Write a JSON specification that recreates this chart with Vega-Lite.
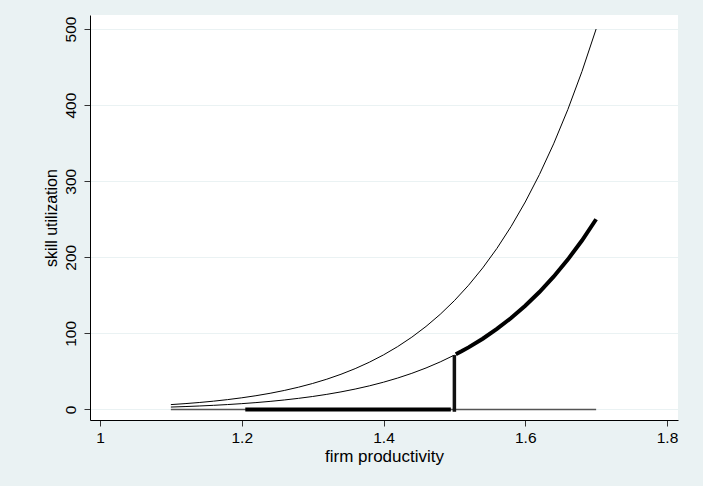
{
  "$schema": "https://vega.github.io/schema/vega-lite/v6.json",
  "width": 588,
  "height": 405,
  "autosize": {"type": "none"},
  "padding": {"left": 90, "top": 15, "right": 25, "bottom": 66},
  "background": "#eaf2f3",
  "config": {
    "view": {"fill": "white", "stroke": null},
    "font": "Liberation Sans",
    "axis": {
      "domainColor": "#000000",
      "domainWidth": 1,
      "tickColor": "#333333",
      "tickSize": 6,
      "tickWidth": 1,
      "gridColor": "#eaf2f3",
      "gridWidth": 1,
      "labelFont": "Liberation Sans",
      "labelFontSize": 15.5,
      "labelColor": "#000000",
      "titleFont": "Liberation Sans",
      "titleFontWeight": "normal",
      "titleColor": "#000000"
    }
  },
  "datasets": {
    "thin": [
      {"curve": "upper", "x": 1.10, "y": 6.43},
      {"curve": "upper", "x": 1.12, "y": 7.70},
      {"curve": "upper", "x": 1.14, "y": 9.19},
      {"curve": "upper", "x": 1.16, "y": 10.94},
      {"curve": "upper", "x": 1.18, "y": 12.98},
      {"curve": "upper", "x": 1.20, "y": 15.36},
      {"curve": "upper", "x": 1.22, "y": 18.12},
      {"curve": "upper", "x": 1.24, "y": 21.31},
      {"curve": "upper", "x": 1.26, "y": 25.01},
      {"curve": "upper", "x": 1.28, "y": 29.28},
      {"curve": "upper", "x": 1.30, "y": 34.19},
      {"curve": "upper", "x": 1.32, "y": 39.83},
      {"curve": "upper", "x": 1.34, "y": 46.29},
      {"curve": "upper", "x": 1.36, "y": 53.68},
      {"curve": "upper", "x": 1.38, "y": 62.12},
      {"curve": "upper", "x": 1.40, "y": 71.74},
      {"curve": "upper", "x": 1.42, "y": 82.67},
      {"curve": "upper", "x": 1.44, "y": 95.08},
      {"curve": "upper", "x": 1.46, "y": 109.14},
      {"curve": "upper", "x": 1.48, "y": 125.05},
      {"curve": "upper", "x": 1.50, "y": 143.01},
      {"curve": "upper", "x": 1.52, "y": 163.26},
      {"curve": "upper", "x": 1.54, "y": 186.06},
      {"curve": "upper", "x": 1.56, "y": 211.69},
      {"curve": "upper", "x": 1.58, "y": 240.45},
      {"curve": "upper", "x": 1.60, "y": 272.68},
      {"curve": "upper", "x": 1.62, "y": 308.75},
      {"curve": "upper", "x": 1.64, "y": 349.05},
      {"curve": "upper", "x": 1.66, "y": 394.03},
      {"curve": "upper", "x": 1.68, "y": 444.17},
      {"curve": "upper", "x": 1.70, "y": 500.0},
      {"curve": "middle", "x": 1.10, "y": 3.21},
      {"curve": "middle", "x": 1.12, "y": 3.85},
      {"curve": "middle", "x": 1.14, "y": 4.60},
      {"curve": "middle", "x": 1.16, "y": 5.47},
      {"curve": "middle", "x": 1.18, "y": 6.49},
      {"curve": "middle", "x": 1.20, "y": 7.68},
      {"curve": "middle", "x": 1.22, "y": 9.06},
      {"curve": "middle", "x": 1.24, "y": 10.66},
      {"curve": "middle", "x": 1.26, "y": 12.51},
      {"curve": "middle", "x": 1.28, "y": 14.64},
      {"curve": "middle", "x": 1.30, "y": 17.10},
      {"curve": "middle", "x": 1.32, "y": 19.91},
      {"curve": "middle", "x": 1.34, "y": 23.15},
      {"curve": "middle", "x": 1.36, "y": 26.84},
      {"curve": "middle", "x": 1.38, "y": 31.06},
      {"curve": "middle", "x": 1.40, "y": 35.87},
      {"curve": "middle", "x": 1.42, "y": 41.34},
      {"curve": "middle", "x": 1.44, "y": 47.54},
      {"curve": "middle", "x": 1.46, "y": 54.57},
      {"curve": "middle", "x": 1.48, "y": 62.52},
      {"curve": "middle", "x": 1.50, "y": 71.50},
      {"curve": "zero", "x": 1.10, "y": 0},
      {"curve": "zero", "x": 1.70, "y": 0}
    ],
    "thick": [
      {"curve": "middle", "x": 1.502, "y": 72.5},
      {"curve": "middle", "x": 1.51, "y": 76.4},
      {"curve": "middle", "x": 1.52, "y": 81.63},
      {"curve": "middle", "x": 1.54, "y": 93.03},
      {"curve": "middle", "x": 1.56, "y": 105.85},
      {"curve": "middle", "x": 1.58, "y": 120.22},
      {"curve": "middle", "x": 1.60, "y": 136.34},
      {"curve": "middle", "x": 1.62, "y": 154.37},
      {"curve": "middle", "x": 1.64, "y": 174.53},
      {"curve": "middle", "x": 1.66, "y": 197.01},
      {"curve": "middle", "x": 1.68, "y": 222.08},
      {"curve": "middle", "x": 1.70, "y": 250.0},
      {"curve": "zero", "x": 1.205, "y": 0},
      {"curve": "zero", "x": 1.495, "y": 0}
    ],
    "jump": [
      {"x": 1.5, "y": -3, "y2": 71.5}
    ]
  },
  "encoding": {
    "x": {
      "field": "x", "type": "quantitative",
      "scale": {"domain": [0.9859, 1.8155], "nice": false, "zero": false},
      "axis": {
        "values": [1, 1.2, 1.4, 1.6, 1.8], "format": "~g", "grid": false,
        "title": "firm productivity", "titleFontSize": 17, "labelPadding": 4, "titlePadding": 3
      }
    },
    "y": {
      "field": "y", "type": "quantitative",
      "scale": {"domain": [-13.8, 518.4], "nice": false, "zero": false},
      "axis": {
        "values": [0, 100, 200, 300, 400, 500], "grid": true,
        "labelAngle": -90, "labelAlign": "center", "labelBaseline": "alphabetic", "labelPadding": 9,
        "title": "skill utilization", "titleFontSize": 16, "titlePadding": 4
      }
    }
  },
  "layer": [
    {
      "data": {"name": "thin"},
      "transform": [{"filter": "datum.curve !== 'zero'"}],
      "mark": {"type": "line", "color": "#000000", "strokeWidth": 1},
      "encoding": {"detail": {"field": "curve"}}
    },
    {
      "data": {"name": "thin"},
      "transform": [{"filter": "datum.curve === 'zero'"}],
      "mark": {"type": "line", "color": "#555555", "strokeWidth": 1.3},
      "encoding": {"detail": {"field": "curve"}}
    },
    {
      "data": {"name": "thick"},
      "mark": {"type": "line", "color": "#000000", "strokeWidth": 4},
      "encoding": {"detail": {"field": "curve"}}
    },
    {
      "data": {"name": "jump"},
      "mark": {"type": "rule", "color": "#111111", "strokeWidth": 3.5},
      "encoding": {"y2": {"field": "y2"}}
    }
  ]
}
